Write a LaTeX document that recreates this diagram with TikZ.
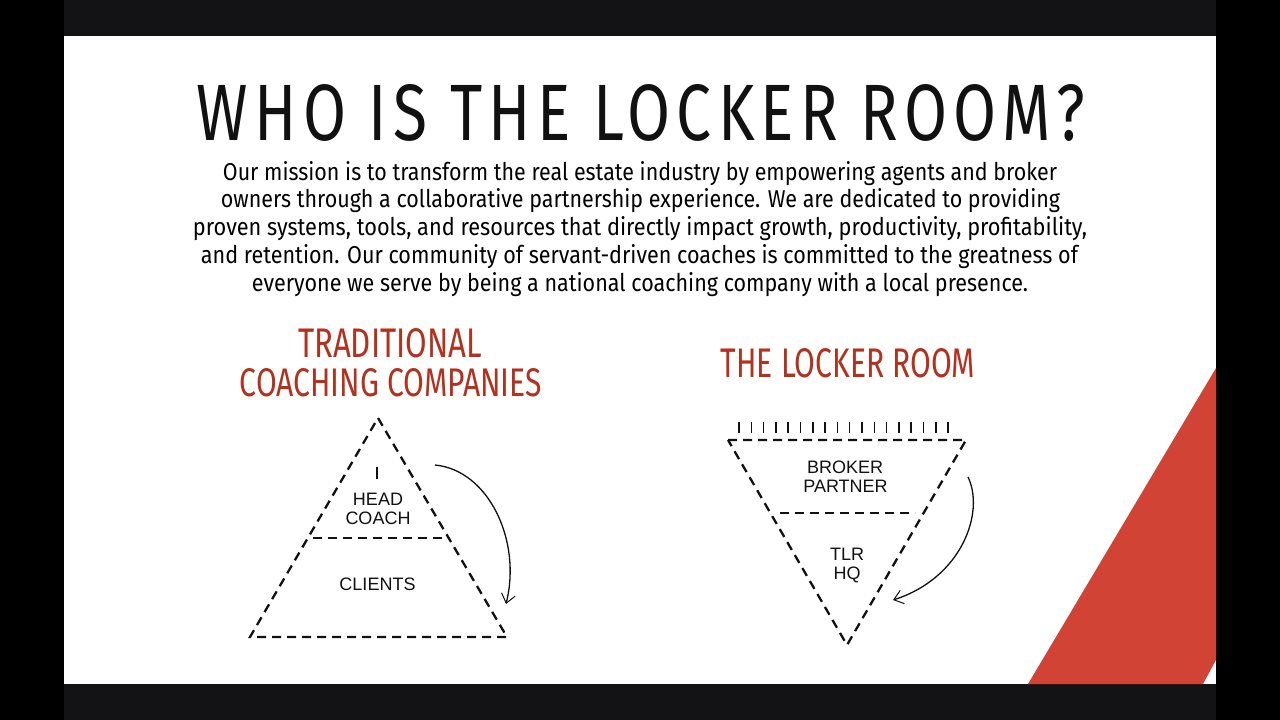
\documentclass[tikz,border=0pt]{standalone}
\usepackage{fontspec}
\usepackage{graphicx}
\usetikzlibrary{arrows.meta}
\setmainfont{Fira Sans}
\newfontfamily\titlefont[LetterSpace=10]{Fira Sans}
\newfontfamily\headfont[FakeStretch=0.72]{Fira Sans}
\newfontfamily\bodyfont[FakeStretch=0.86]{Fira Sans}
\newfontfamily\labelfont{Liberation Sans}
\definecolor{framebk}{HTML}{131315}
\definecolor{headred}{HTML}{B3311F}
\definecolor{bandred}{HTML}{D04335}
\definecolor{ink}{HTML}{111111}
\newcommand{\bline}[5]{\node[anchor=base,inner sep=0pt] (#1) at (#2,#3) {\resizebox{#4pt}{19pt}{\bodyfont #5}};}
\newcommand{\titletext}{\resizebox{888pt}{56pt}{\titlefont WHO IS THE LOCKER ROOM?}}
\tikzset{
  dashline/.style={line width=2.3pt, dash pattern=on 9pt off 6pt, ink},
  tick/.style={line width=1.5pt, ink},
  curvearrow/.style={line width=1.3pt, ink, -{Straight Barb[length=9pt,width=14pt,line width=1pt]}},
  lbl/.style={font=\labelfont\fontsize{18}{20}\selectfont, text=ink, inner sep=0pt, anchor=base, align=center},
  headtxt/.style={inner sep=0pt, anchor=base, text=headred}
}
\begin{document}
\begin{tikzpicture}[x=1pt,y=-1pt]
\useasboundingbox (0,0) rectangle (1280,720);
% frame
\fill[black] (0,0) rectangle (1280,720);
\fill[framebk] (64,0) rectangle (1216,36);
\fill[framebk] (64,684) rectangle (1216,720);
\fill[white] (64,36) rectangle (1216,684);
% red band
\fill[bandred] (1216,368) -- (1028,684) -- (1203,684) -- (1216,660) -- cycle;
% title
\node[anchor=base,inner sep=0pt,text=ink] (title) at (641,140) {\titletext};
% mission text
\bline{l1}{640}{180}{834}{Our mission is to transform the real estate industry by empowering agents and broker}
\bline{l2}{640.5}{207.5}{839}{owners through a collaborative partnership experience. We are dedicated to providing}
\bline{l3}{640}{235}{894}{proven systems, tools, and resources that directly impact growth, productivity, profitability,}
\bline{l4}{639.5}{263}{877}{and retention. Our community of servant-driven coaches is committed to the greatness of}
\bline{l5}{640}{291}{776}{everyone we serve by being a national coaching company with a local presence.}
% headings
\node[headtxt] (h1a) at (390,357) {\resizebox{184pt}{29pt}{\headfont TRADITIONAL}};
\node[headtxt] (h1b) at (391,396) {\resizebox{302pt}{28pt}{\headfont COACHING COMPANIES}};
\node[headtxt] (h2) at (848,377) {\resizebox{254pt}{29pt}{\headfont THE LOCKER ROOM}};
% left pyramid
\coordinate (ltop) at (378,418);
\coordinate (lbl) at (250,637);
\coordinate (lbr) at (507,637);
\draw[dashline] (ltop) -- (lbr) -- (lbl) -- cycle;
\coordinate (lml) at (313,538);
\coordinate (lmr) at (443,538);
\draw[dashline] (lml) -- (lmr);
\draw[tick] (377,467) -- (377,479);
\node[lbl] (head) at (378,505) {HEAD};
\node[lbl] (coach) at (378,524) {COACH};
\node[lbl] (clients) at (377.5,590) {CLIENTS};
\coordinate (la1) at (435,465);
\coordinate (la2) at (506,604);
\draw[curvearrow] (la1) .. controls (488,470) and (522,540) .. (la2);
% right pyramid
\coordinate (rtl) at (728,440);
\coordinate (rtr) at (966,440);
\coordinate (rbot) at (847,645);
\draw[dashline] (rtl) -- (rtr) -- (rbot) -- cycle;
\coordinate (rml) at (780,513);
\coordinate (rmr) at (915,513);
\draw[dashline] (rml) -- (rmr);
\foreach \i in {0,...,17}{
  \draw[tick] (739+\i*12.3,422) -- (739+\i*12.3,433);
}
\node[lbl] (broker) at (845,473) {BROKER};
\node[lbl] (partner) at (845.5,492) {PARTNER};
\node[lbl] (tlr) at (847,560) {TLR};
\node[lbl] (hq) at (847,579) {HQ};
\coordinate (ra1) at (968,477);
\coordinate (ra2) at (893,600);
\draw[curvearrow] (ra1) .. controls (985,512) and (962,578) .. (ra2);
\end{tikzpicture}
\end{document}
